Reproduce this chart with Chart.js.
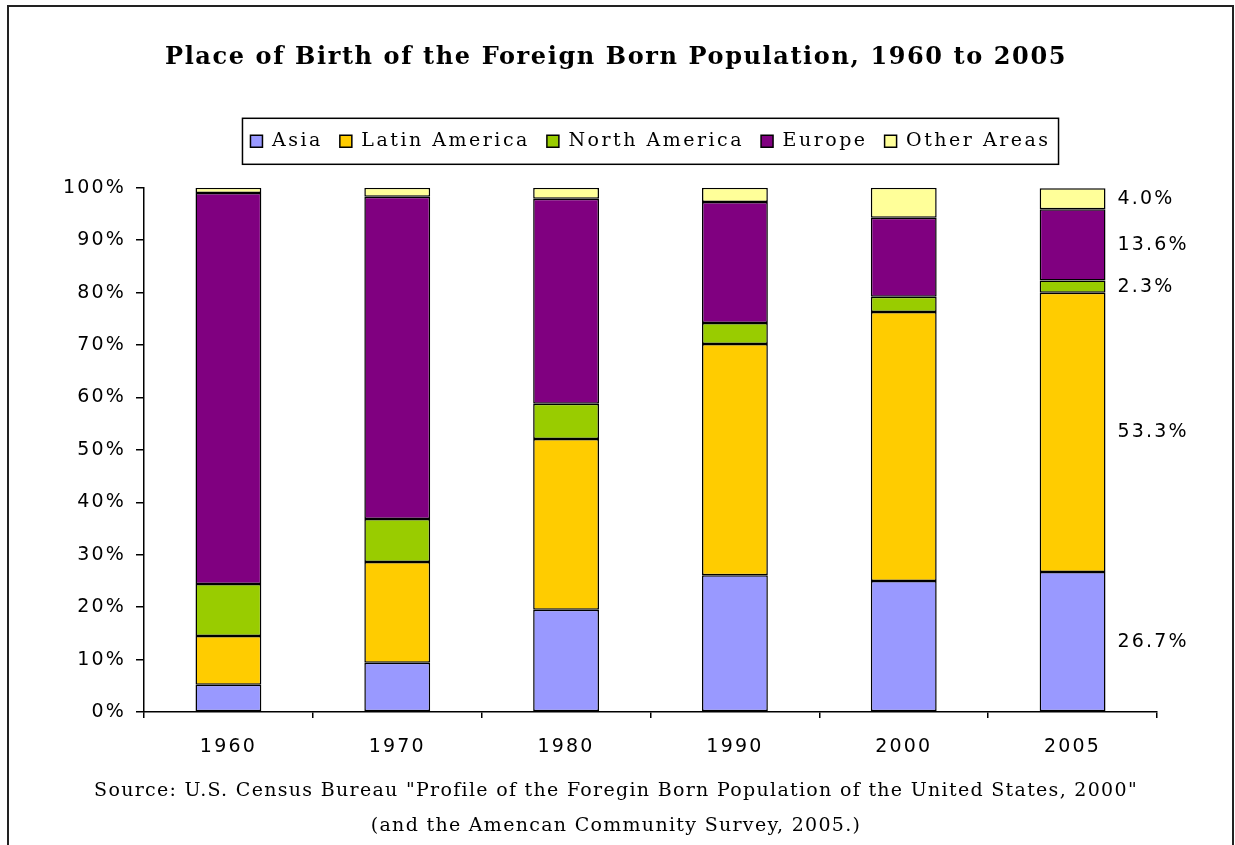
<!DOCTYPE html>
<html><head><meta charset="utf-8">
<script src="https://cdn.jsdelivr.net/npm/chart.js@4.4.0/dist/chart.umd.min.js"></script>
<style>html,body{margin:0;padding:0;background:#fff;}#wrap{width:1235px;height:845px;position:relative;overflow:hidden}</style>
</head><body><div id="wrap"><canvas id="c" width="1235" height="845"></canvas></div>
<script>
const years = ['1960', '1970', '1980', '1990', '2000', '2005'];
const asia = [5.2, 9.4, 19.5, 26.1, 25.0, 26.7];
const latinAmerica = [9.3, 19.2, 32.6, 44.1, 51.3, 53.3];
const northAmerica = [9.9, 8.2, 6.7, 4.0, 2.9, 2.3];
const europe = [74.6, 61.5, 39.1, 23.1, 15.1, 13.6];
const otherAreas = [1.0, 1.7, 2.1, 2.7, 5.7, 4.0];
const seriesNames = ['Asia', 'Latin America', 'North America', 'Europe', 'Other Areas'];
const titleText = 'Place of Birth of the Foreign Born Population, 1960 to 2005';
const sourceLines = ['Source: U.S. Census Bureau "Profile of the Foregin Born Population of the United States, 2000"',
                     '(and the Amencan Community Survey, 2005.)'];

const seriesData = [asia, latinAmerica, northAmerica, europe, otherAreas];
const seriesColors = ['#9999FF', '#FFCC00', '#99CC00', '#800080', '#FFFF99'];

function patch(obj, name, fn) {
  if (!obj || obj['__p_' + name]) return;
  const orig = obj[name];
  obj[name] = function (...a) { return fn.call(this, orig, a); };
  obj['__p_' + name] = true;
}
function withSpacing(ctx, sp, f) {
  const p = ctx.letterSpacing; ctx.letterSpacing = sp;
  try { return f(); } finally { ctx.letterSpacing = p; }
}
const BASE_SPACING = '2.2px';

const frame = {
  id: 'frame',
  beforeLayout(chart) {
    chart.ctx.letterSpacing = BASE_SPACING;
    patch(chart.legend, 'fit', function (orig, a) {
      withSpacing(this.ctx, '2.5px', () => orig.apply(this, a));
      if (this.height) this.height += 27;
    });
    patch(chart.legend, 'draw', function (orig, a) {
      withSpacing(this.ctx, '2.5px', () => orig.apply(this, a));
    });
    patch(chart.titleBlock, 'draw', function (orig, a) {
      withSpacing(this.ctx, '1.6px', () => orig.apply(this, a));
    });
    const TitleCls = chart.titleBlock && chart.titleBlock.constructor;
    chart.boxes.forEach(b => {
      if (TitleCls && b !== chart.titleBlock && b.constructor === TitleCls) {
        patch(b, 'draw', function (orig, a) {
          withSpacing(this.ctx, '1.3px', () => orig.apply(this, a));
        });
      }
    });
  },
  beforeDraw(chart) {
    const ctx = chart.ctx;
    ctx.letterSpacing = BASE_SPACING;
    const ys = chart.scales.y;
    if (ys) ys._computeLabelArea = () => undefined;
    ctx.save();
    ctx.fillStyle = '#fff';
    ctx.fillRect(0, 0, chart.width, chart.height);
    ctx.strokeStyle = '#222';
    ctx.lineWidth = 2;
    ctx.strokeRect(8, 6, chart.width - 10, chart.height + 20);
    ctx.restore();
  },
  afterDraw(chart) {
    const lg = chart.legend;
    if (!lg || !lg.legendHitBoxes || !lg.legendHitBoxes.length) return;
    const hb = lg.legendHitBoxes;
    const f = hb[0], l = hb[hb.length - 1];
    const cy = f.top + f.height / 2;
    const ctx = chart.ctx;
    ctx.save();
    ctx.strokeStyle = '#000';
    ctx.lineWidth = 1.5;
    const x0 = f.left - 8, x1 = l.left + l.width + 8;
    ctx.strokeRect(x0, cy - 23, x1 - x0, 46);
    ctx.restore();
  }
};

const segLabels = {
  id: 'segLabels',
  afterDatasetsDraw(chart) {
    const ctx = chart.ctx;
    const idx = years.length - 1;
    const ys = chart.scales.y;
    let base = 0;
    ctx.save();
    ctx.font = '19px "DejaVu Sans"';
    ctx.fillStyle = '#000';
    ctx.textBaseline = 'middle';
    ctx.textAlign = 'left';
    chart.data.datasets.forEach((ds, i) => {
      const v = ds.data[idx];
      const bar = chart.getDatasetMeta(i).data[idx];
      const yy = ys.getPixelForValue(base + v / 2);
      ctx.fillText(v.toFixed(1) + '%', bar.x + bar.width / 2 + 12, yy);
      base += v;
    });
    ctx.restore();
  }
};

const datasets = seriesNames.map((name, i) => ({
  label: name,
  data: seriesData[i],
  backgroundColor: seriesColors[i],
  borderColor: '#000',
  borderWidth: 1.5,
  borderSkipped: false,
  categoryPercentage: 1,
  barPercentage: 0.39
}));

const tickFont = { family: 'DejaVu Sans', size: 19 };

new Chart(document.getElementById('c'), {
  type: 'bar',
  data: { labels: years, datasets },
  plugins: [frame, segLabels],
  options: {
    responsive: false,
    animation: false,
    devicePixelRatio: 1,
    layout: { padding: { left: 75, right: 78, top: 30, bottom: 1 } },
    plugins: {
      title: {
        display: true, text: titleText, color: '#000',
        font: { family: 'DejaVu Serif', size: 24, weight: 'bold' },
        padding: { top: 13, bottom: 43 }
      },
      subtitle: {
        display: true, position: 'bottom', text: sourceLines, color: '#000',
        font: { family: 'DejaVu Serif', size: 19, lineHeight: 35 / 19 },
        padding: { top: 2, bottom: 0 }
      },
      legend: {
        display: true, position: 'top', fullSize: false,
        labels: {
          color: '#000', font: { family: 'DejaVu Serif', size: 19 },
          boxWidth: 12, boxHeight: 12, padding: 17
        }
      },
      tooltip: { enabled: false }
    },
    scales: {
      x: {
        stacked: true,
        grid: { display: true, drawOnChartArea: false, drawTicks: true, tickLength: 6, color: '#000', offset: true, lineWidth: 1.5 },
        border: { display: true, color: '#000', width: 1.5 },
        ticks: { color: '#000', font: tickFont, padding: 18, maxRotation: 0 },
        afterFit: s => { s.height = 60; }
      },
      y: {
        stacked: true, min: 0, max: 100,
        grid: { display: true, drawOnChartArea: false, drawTicks: true, tickLength: 8, color: '#000', lineWidth: 1.5 },
        border: { display: true, color: '#000', width: 1.5 },
        ticks: { stepSize: 10, color: '#000', font: tickFont, padding: 10, callback: v => v + '%' },
        afterFit: s => { s.width = 69; }
      }
    }
  }
});
</script>
</body></html>
